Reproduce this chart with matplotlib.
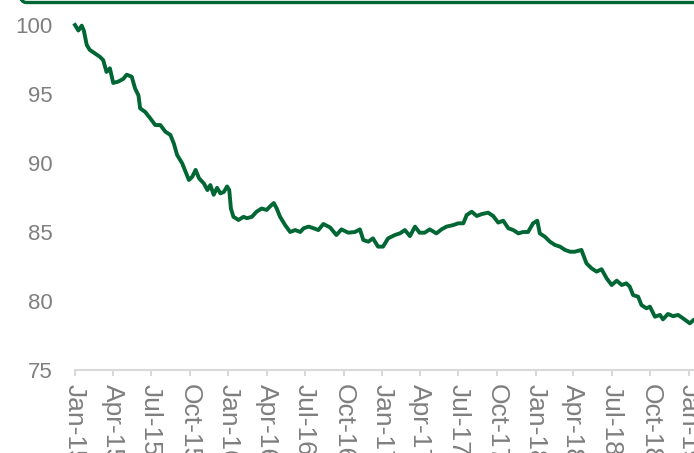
import numpy as np
import pandas as pd
import matplotlib
matplotlib.use('Agg')
import matplotlib.pyplot as plt
from matplotlib.patches import FancyBboxPatch
import matplotlib.dates as mdates

plt.rcParams['font.family'] = ['Liberation Sans', 'DejaVu Sans']

# %% values (index, Jan-15 = 100)
dates = ['2015-01-01', '2015-01-09', '2015-01-17', '2015-01-22', '2015-01-29', '2015-02-05',
         '2015-02-17', '2015-03-01', '2015-03-09', '2015-03-17', '2015-03-25', '2015-04-02',
         '2015-04-14', '2015-04-26', '2015-05-04', '2015-05-16', '2015-05-24', '2015-06-01',
         '2015-06-05', '2015-06-17', '2015-06-29', '2015-07-11', '2015-07-23', '2015-08-04',
         '2015-08-16', '2015-08-24', '2015-09-01', '2015-09-13', '2015-09-21', '2015-09-29',
         '2015-10-07', '2015-10-15', '2015-10-23', '2015-11-04', '2015-11-12', '2015-11-19',
         '2015-11-27', '2015-12-05', '2015-12-13', '2015-12-21', '2015-12-29', '2016-01-03',
         '2016-01-07', '2016-01-13', '2016-01-25', '2016-02-06', '2016-02-14', '2016-02-26',
         '2016-03-08', '2016-03-20', '2016-04-01', '2016-04-09', '2016-04-18', '2016-04-25',
         '2016-05-03', '2016-05-15', '2016-05-27', '2016-06-08', '2016-06-20', '2016-06-28',
         '2016-07-10', '2016-07-22', '2016-08-02', '2016-08-14', '2016-08-30', '2016-09-14',
         '2016-09-26', '2016-10-12', '2016-10-28', '2016-11-09', '2016-11-17', '2016-11-29',
         '2016-12-10', '2016-12-22', '2017-01-03', '2017-01-15', '2017-01-31', '2017-02-12',
         '2017-02-24', '2017-03-08', '2017-03-20', '2017-03-31', '2017-04-12', '2017-04-24',
         '2017-05-10', '2017-05-22', '2017-06-03', '2017-06-19', '2017-07-01', '2017-07-13',
         '2017-07-21', '2017-08-02', '2017-08-14', '2017-08-26', '2017-09-10', '2017-09-22',
         '2017-10-04', '2017-10-16', '2017-10-28', '2017-11-09', '2017-11-21', '2017-12-02',
         '2017-12-14', '2017-12-26', '2018-01-05', '2018-01-11', '2018-01-23', '2018-02-04',
         '2018-02-16', '2018-02-28', '2018-03-12', '2018-03-24', '2018-04-04', '2018-04-20',
         '2018-05-02', '2018-05-14', '2018-05-26', '2018-06-07', '2018-06-19', '2018-07-01',
         '2018-07-13', '2018-07-25', '2018-08-05', '2018-08-13', '2018-08-21', '2018-09-02',
         '2018-09-10', '2018-09-22', '2018-09-30', '2018-10-12', '2018-10-24', '2018-10-31',
         '2018-11-12', '2018-11-24', '2018-12-06', '2018-12-18', '2019-01-03', '2019-01-11']
index = [100.0, 99.6, 99.95, 99.6, 98.55, 98.2,
         97.95, 97.7, 97.46, 96.6, 96.86, 95.8,
         95.9, 96.1, 96.4, 96.25, 95.4, 94.9,
         93.96, 93.7, 93.24, 92.75, 92.75, 92.27,
         92.03, 91.43, 90.58, 89.98, 89.37, 88.77,
         89.0, 89.5, 88.9, 88.5, 88.04, 88.4,
         87.7, 88.2, 87.8, 87.9, 88.3, 88.04,
         86.7, 86.1, 85.87, 86.1, 86.0, 86.1,
         86.47, 86.7, 86.6, 86.85, 87.1, 86.7,
         86.1, 85.5, 85.0, 85.14, 85.0, 85.27,
         85.39, 85.27, 85.14, 85.58, 85.33, 84.78,
         85.19, 84.95, 85.0, 85.19, 84.42, 84.3,
         84.54, 83.94, 83.94, 84.54, 84.78, 84.9,
         85.14, 84.7, 85.39, 84.95, 84.95, 85.19,
         84.9, 85.19, 85.39, 85.5, 85.63, 85.63,
         86.23, 86.47, 86.16, 86.3, 86.4, 86.16,
         85.68, 85.82, 85.27, 85.14, 84.9, 85.0,
         85.0, 85.63, 85.82, 84.9, 84.66, 84.3,
         84.06, 83.94, 83.7, 83.57, 83.57, 83.7,
         82.73, 82.37, 82.13, 82.3, 81.64, 81.16,
         81.47, 81.16, 81.28, 81.04, 80.43, 80.31,
         79.7, 79.47, 79.59, 78.86, 78.99, 78.67,
         79.06, 78.9, 78.99, 78.74, 78.38, 78.6]

tick_dates = ['2015-01-01', '2015-04-01', '2015-07-01', '2015-10-01',
              '2016-01-01', '2016-04-01', '2016-07-01', '2016-10-01',
              '2017-01-01', '2017-04-01', '2017-07-01', '2017-10-01',
              '2018-01-01', '2018-04-01', '2018-07-01', '2018-10-01',
              '2019-01-01']
tick_labels = ['Jan-15', 'Apr-15', 'Jul-15', 'Oct-15',
               'Jan-16', 'Apr-16', 'Jul-16', 'Oct-16',
               'Jan-17', 'Apr-17', 'Jul-17', 'Oct-17',
               'Jan-18', 'Apr-18', 'Jul-18', 'Oct-18',
               'Jan-19']

green = '#006633'
grey_txt = '#7f7f7f'
grey_ax = '#d9d9d9'

# %%
W, H = 694, 453
fig = plt.figure(figsize=(W / 100, H / 100), dpi=100)
# axes: left edge at Jan-15 (x=75), 100 at y=25, 75 at y=370; runs past the right edge
ax = fig.add_axes([75 / W, (H - 370) / H, (720 - 75) / W, (370 - 25) / H])

x = pd.to_datetime(dates)
ax.plot(x, index, color=green, lw=2.8, solid_joinstyle='round', clip_on=False)

day0 = mdates.date2num(pd.Timestamp('2015-01-01'))
ax.set_xlim(day0, day0 + (720 - 75) * 1461 / 614)
ax.set_ylim(75, 100)
ax.set_yticks(np.arange(75, 101, 5))

ax.set_xticks(pd.to_datetime(tick_dates))
ax.set_xticklabels(tick_labels, rotation=-90, ha='center', va='top')

for s in ['top', 'right', 'left']:
    ax.spines[s].set_visible(False)
ax.spines['bottom'].set_color(grey_ax)
ax.spines['bottom'].set_linewidth(1.5)
ax.tick_params(axis='y', length=0, pad=16, labelsize=16, labelcolor=grey_txt)
ax.tick_params(axis='x', length=4, width=1.5, color=grey_ax, pad=6,
               labelsize=19, labelcolor=grey_txt)

# green rounded frame edge peeking in at the top
frame = FancyBboxPatch((17, H - 2.5), 720, 40, boxstyle='round,pad=0,rounding_size=9',
                       transform=None, facecolor='none', edgecolor=green, lw=2.4,
                       clip_on=False)
fig.patches.append(frame)

fig.savefig('out.png', dpi=100)
